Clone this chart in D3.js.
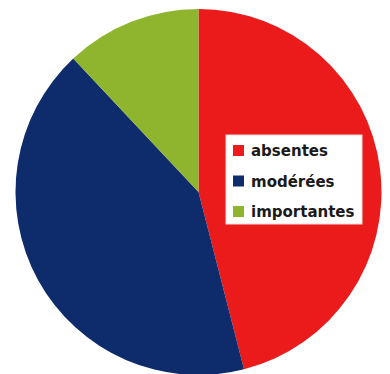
<!DOCTYPE html>
<html>
<head>
<meta charset="utf-8">
<script src="https://cdn.jsdelivr.net/npm/d3@7"></script>
<style>
  html, body { margin: 0; padding: 0; background: #ffffff; }
  svg { display: block; }
</style>
</head>
<body>
<svg id="chart" width="390" height="374"></svg>
<script>
// Share of each category (percent)
const categories = ["absentes", "modérées", "importantes"];
const values = [46, 42, 12];
const colors = ["#EC1B1B", "#0E2B6C", "#8FB52E"];

const svg = d3.select("#chart");
const cx = 198.5, cy = 192, radius = 183;

const color = d3.scaleOrdinal().domain(categories).range(colors);

const pie = d3.pie().sort(null).value(d => d.value);
const arc = d3.arc().innerRadius(0).outerRadius(radius);

const data = categories.map((c, i) => ({ name: c, value: values[i] }));

svg.append("g")
  .attr("transform", `translate(${cx},${cy})`)
  .selectAll("path")
  .data(pie(data))
  .join("path")
  .attr("d", arc)
  .attr("fill", d => color(d.data.name));

// Legend
const legend = svg.append("g").attr("transform", "translate(226,135)");
legend.append("rect")
  .attr("width", 136).attr("height", 89)
  .attr("fill", "#ffffff")
  .attr("stroke", "#f2dada").attr("stroke-width", 1);

const rowY = d3.scalePoint().domain(categories).range([16, 77]);

const rows = legend.selectAll("g.row")
  .data(categories)
  .join("g")
  .attr("class", "row")
  .attr("transform", d => `translate(0,${rowY(d)})`);

rows.append("rect")
  .attr("x", 7).attr("y", -6)
  .attr("width", 11).attr("height", 11)
  .attr("fill", d => color(d));

rows.append("text")
  .attr("x", 25).attr("y", 5)
  .attr("font-family", "'DejaVu Sans', sans-serif")
  .attr("font-weight", "bold")
  .attr("font-size", 15)
  .attr("fill", "#1a1a1a")
  .text(d => d);
</script>
</body>
</html>
